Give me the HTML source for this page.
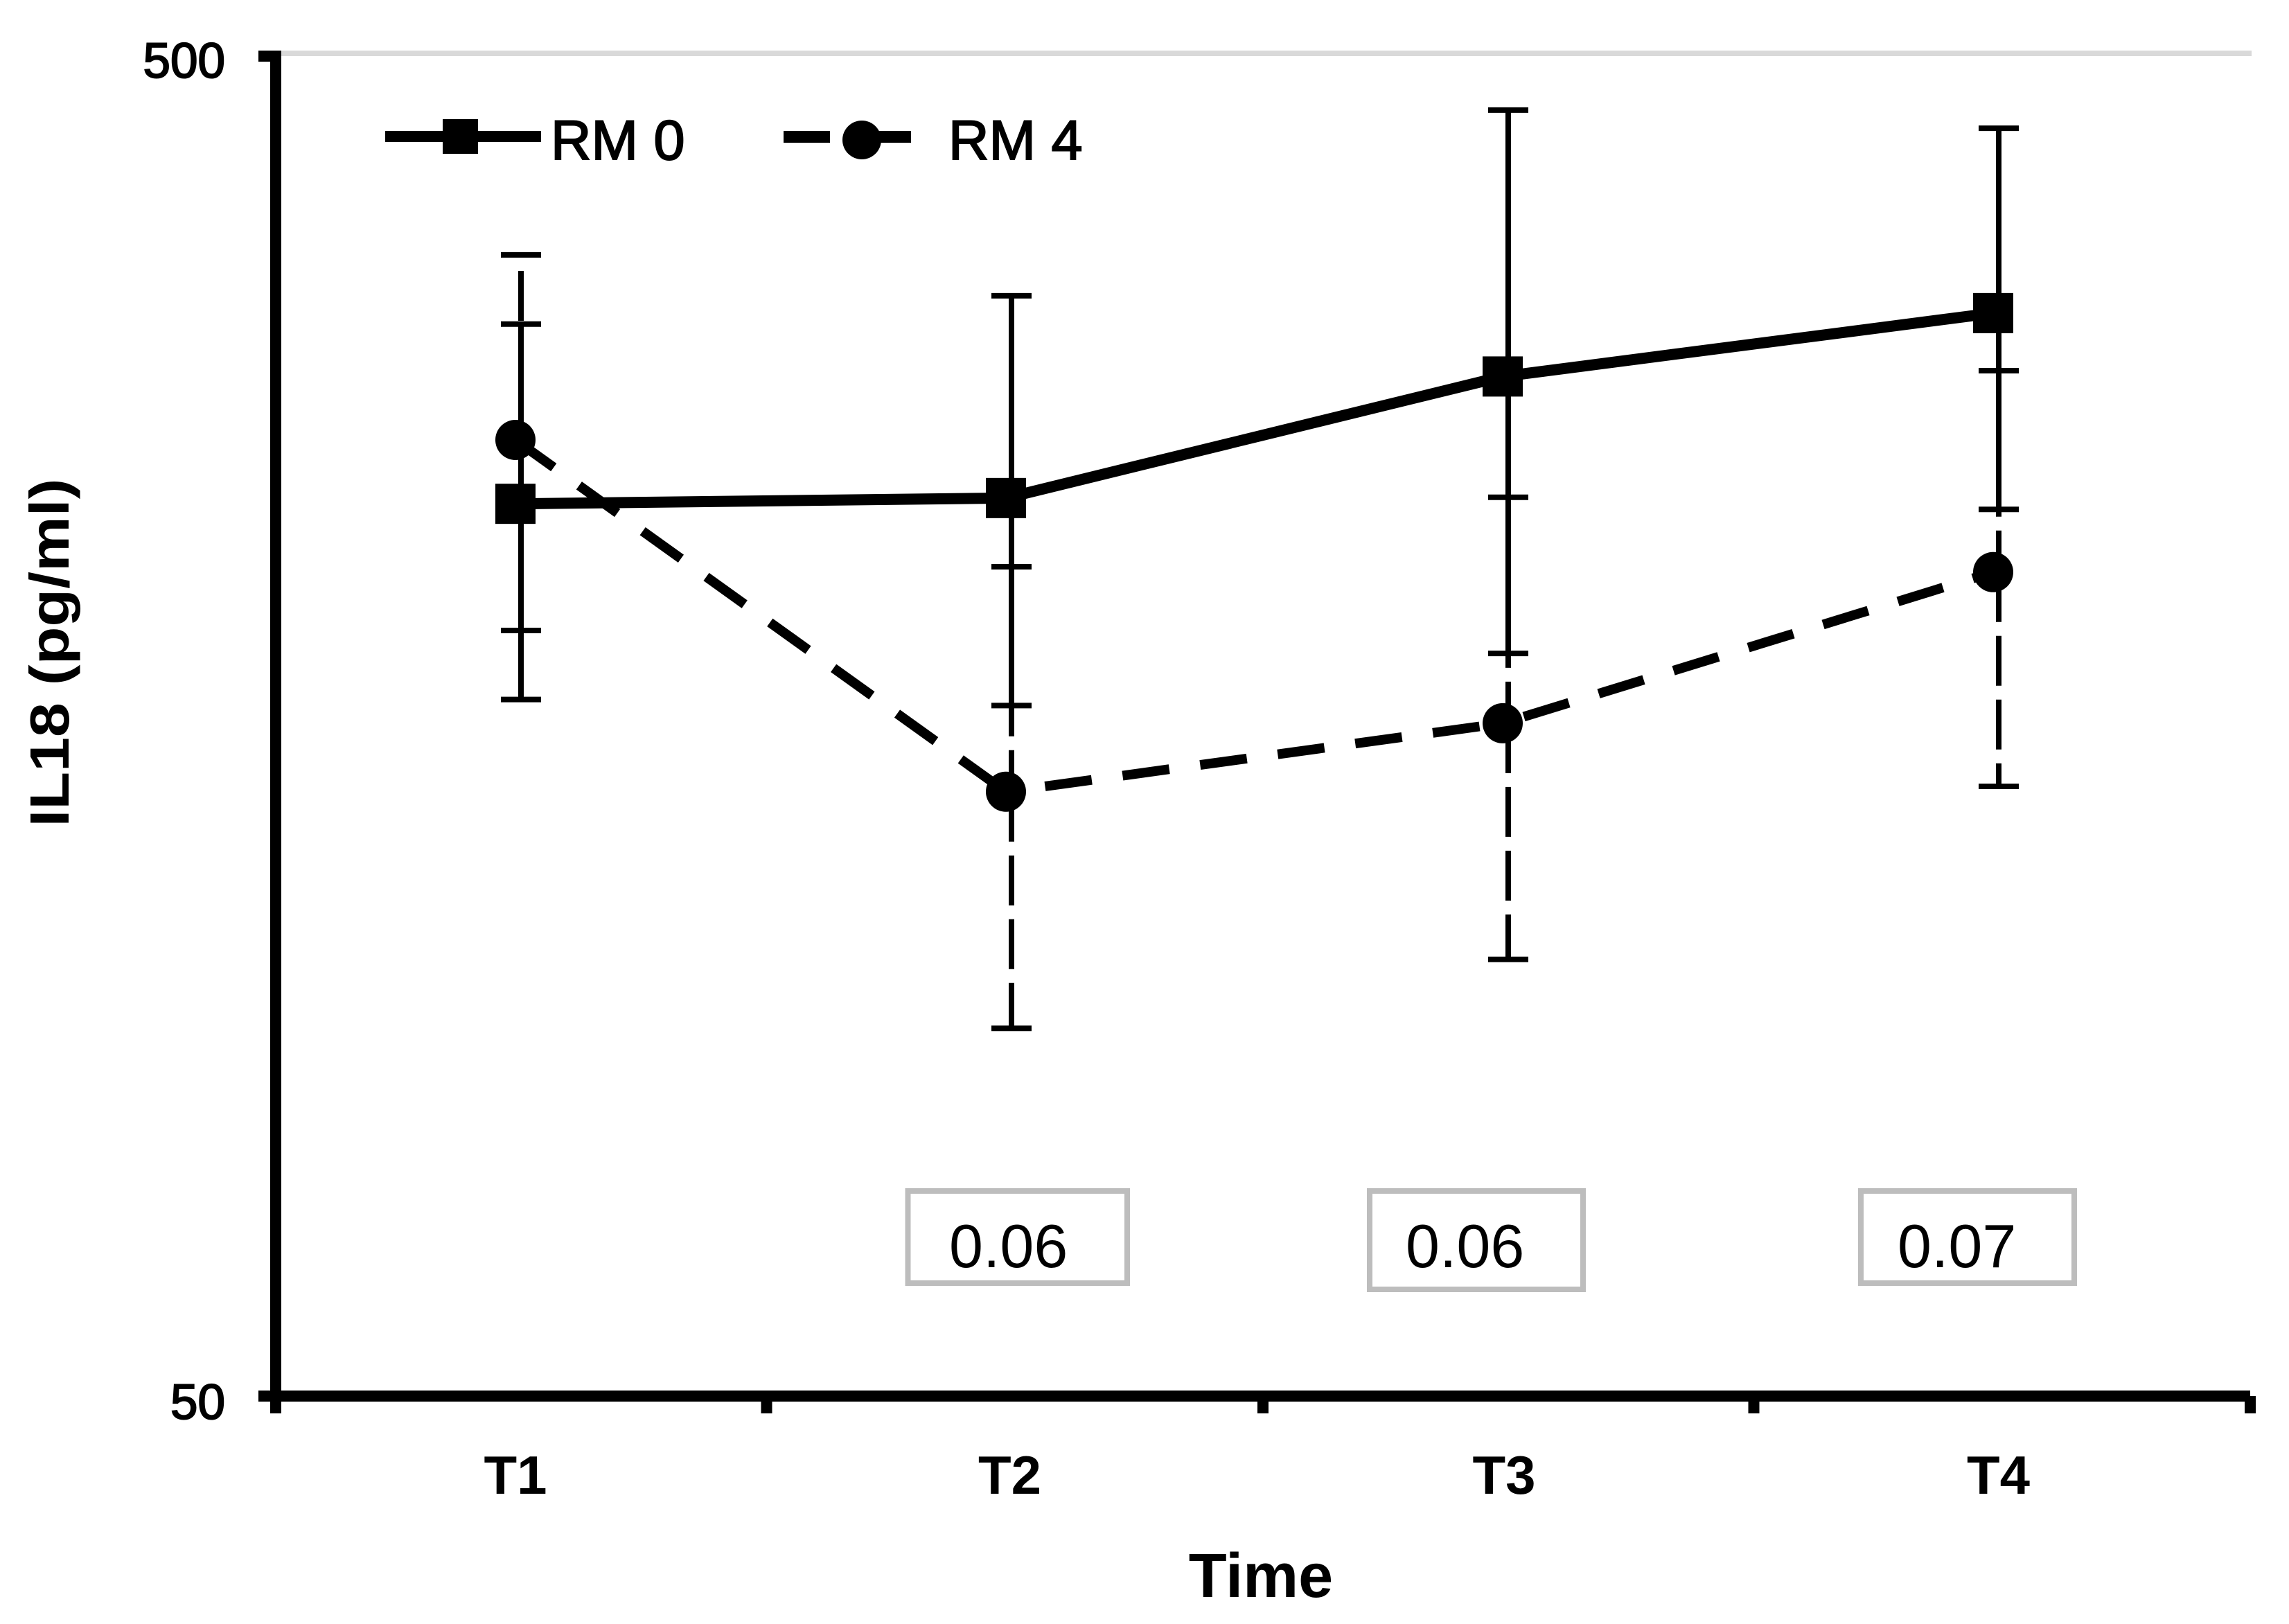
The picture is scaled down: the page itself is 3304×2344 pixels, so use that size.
<!DOCTYPE html>
<html>
<head>
<meta charset="utf-8">
<title>IL18 over time</title>
<style>
html,body{margin:0;padding:0;background:#fff;}
svg{display:block;}
text{font-family:"Liberation Sans",sans-serif;fill:#000;}
</style>
</head>
<body>
<svg id="chart" xmlns="http://www.w3.org/2000/svg" width="3304" height="2344" viewBox="0 0 3304 2344">
  <rect x="0" y="0" width="3304" height="2344" fill="#ffffff"/>
  <rect x="397" y="73" width="2853" height="8" fill="#d9d9d9"/>
  <g id="axes"></g>
  <g id="marks"></g>

  <g>
    <g>
      <rect x="556" y="189" width="225" height="16" fill="#000"/>
      <rect x="639" y="172" width="51" height="50" fill="#000"/>
      <text x="795" y="230" font-size="81" stroke="#000" stroke-width="2">RM 0</text>
    </g>
    <g>
      <rect x="1131" y="189" width="67" height="17" fill="#000"/>
      <rect x="1244" y="189" width="71" height="17" fill="#000"/>
      <circle cx="1244" cy="202" r="28" fill="#000"/>
      <text x="1369" y="230" font-size="81" stroke="#000" stroke-width="2">RM 4</text>
    </g>
  </g>

  <g>
    <g>
      <rect x="1310.5" y="1719" width="316.5" height="133" fill="#fff" stroke="#bdbdbd" stroke-width="8"/>
      <text x="1370" y="1829" font-size="88" fill="#111">0.06</text>
    </g>
    <g>
      <rect x="1977" y="1719" width="308" height="142" fill="#fff" stroke="#bdbdbd" stroke-width="8"/>
      <text x="2029" y="1829" font-size="88" fill="#111">0.06</text>
    </g>
    <g>
      <rect x="2686" y="1719" width="308" height="133" fill="#fff" stroke="#bdbdbd" stroke-width="8"/>
      <text x="2739" y="1829" font-size="88" fill="#111">0.07</text>
    </g>
  </g>

  <text x="1820" y="2305" font-size="90" font-weight="bold" text-anchor="middle">Time</text>
  <text transform="translate(99,942) rotate(-90)" font-size="80" font-weight="bold" text-anchor="middle" textLength="503" lengthAdjust="spacingAndGlyphs">IL18 (pg/ml)</text>
</svg>

<script>
// Chart data (pg/ml)
const categories = ['T1', 'T2', 'T3', 'T4'];
const yTickValues = [50, 500];
const rm0Mean = [231.3, 233.6, 287.8, 320.9];
const rm0Upper = [314.9, 330.6, 454.7, 440.7];
const rm0Lower = [165.3, 163.6, 178.9, 229.1];
const rm4Mean = [258.1, 141.1, 158.7, 205.7];
const rm4Upper = [354.6, 207.6, 233.9, 290.7];
const rm4Lower = [186.1, 94.0, 105.8, 142.4];

const NS = 'http://www.w3.org/2000/svg';
const axesG = document.getElementById('axes');
const marksG = document.getElementById('marks');

function yScale(v) {
  const top = 79, bottom = 2015;
  const lo = Math.log10(yTickValues[0]), hi = Math.log10(yTickValues[yTickValues.length - 1]);
  return bottom - (Math.log10(v) - lo) / (hi - lo) * (bottom - top);
}
// The source raster snaps categories to its coarse pixel grid, hence the small per-slot nudge.
function xScale(i) { return 744 + 711 * i + [0, -3, 3, 0][i]; }
function errX(i) { return xScale(i) + 8; }
function labelX(i) { return 744 + 713.5 * i; }
function tickX(i) { return 398 + 712.5 * i + [0, -4, 0, -4, 0][i]; }

function el(tag, parent, attrs) {
  const e = document.createElementNS(NS, tag);
  for (const k in attrs) e.setAttribute(k, attrs[k]);
  parent.appendChild(e);
  return e;
}

// Axes
const yAxisLine = el('rect', axesG, {x: 390, y: 73, width: 16, height: 1967, fill: '#000'});


const xAxisLine = el('rect', axesG, {x: 373, y: 2007, width: 2875, height: 16, fill: '#000'});



yTickValues.forEach(function (v, i) {
  const cy = yScale(v);
  const tick = el('rect', axesG, {x: 373, y: (i === 0 ? cy - 8 : cy - 6), width: 25, height: 16, fill: '#000'});
  
  
  const label = el('text', axesG, {x: 325, y: cy + 33, 'font-size': 71, 'text-anchor': 'end', stroke: '#000', 'stroke-width': 2});
  label.textContent = String(v);
  
  
});

for (let i = 1; i <= categories.length; i++) {
  const tick = el('rect', axesG, {x: tickX(i) - 8, y: 2015, width: 16, height: 25, fill: '#000'});
  
  
}
categories.forEach(function (c, i) {
  const label = el('text', axesG, {x: labelX(i), y: 2156, 'font-size': 78, 'font-weight': 'bold', 'text-anchor': 'middle'});
  label.textContent = c;
  
  
});

// Error bars
function cap(i, value, name) {
  const c = el('line', marksG, {x1: errX(i) - 29, x2: errX(i) + 29, y1: yScale(value), y2: yScale(value), stroke: '#000', 'stroke-width': 8});
  
  
}
categories.forEach(function (c, i) {
  const key = c.toLowerCase();
  const solid = el('line', marksG, {x1: errX(i), x2: errX(i), y1: yScale(rm0Upper[i]), y2: yScale(rm0Lower[i]), stroke: '#000', 'stroke-width': 8});
  
  
  cap(i, rm0Upper[i], 'error-cap-upper-rm0-' + key);
  cap(i, rm0Lower[i], 'error-cap-lower-rm0-' + key);

  const up = el('line', marksG, {x1: errX(i), x2: errX(i), y1: yScale(rm4Mean[i]), y2: yScale(rm4Upper[i]), stroke: '#000', 'stroke-width': 8, 'stroke-dasharray': '72 20', 'stroke-dashoffset': 12});
  
  
  const down = el('line', marksG, {x1: errX(i), x2: errX(i), y1: yScale(rm4Mean[i]), y2: yScale(rm4Lower[i]), stroke: '#000', 'stroke-width': 8, 'stroke-dasharray': '72 20'});
  
  
  cap(i, rm4Upper[i], 'error-cap-upper-rm4-' + key);
  cap(i, rm4Lower[i], 'error-cap-lower-rm4-' + key);
});

// Series lines
const rm0Points = rm0Mean.map(function (v, i) { return xScale(i) + ',' + yScale(v); }).join(' ');
const rm0Line = el('polyline', marksG, {points: rm0Points, fill: 'none', stroke: '#000', 'stroke-width': 16});



// The dashed series restarts its dash phase at each segment, as in the source.
const rm4DashPhase = [0, 56, 81];
for (let i = 0; i < rm4Mean.length - 1; i++) {
  const seg = el('line', marksG, {x1: xScale(i), y1: yScale(rm4Mean[i]), x2: xScale(i + 1), y2: yScale(rm4Mean[i + 1]), stroke: '#000', 'stroke-width': 14, 'stroke-dasharray': '68 45', 'stroke-dashoffset': rm4DashPhase[i]});
  
  
}

// Markers
categories.forEach(function (c, i) {
  const key = c.toLowerCase();
  const sq = el('rect', marksG, {x: xScale(i) - 29, y: yScale(rm0Mean[i]) - 29, width: 58, height: 58, fill: '#000'});
  
  
  const dot = el('circle', marksG, {cx: xScale(i), cy: yScale(rm4Mean[i]), r: 29, fill: '#000'});
  
  
});
</script>
</body>
</html>
